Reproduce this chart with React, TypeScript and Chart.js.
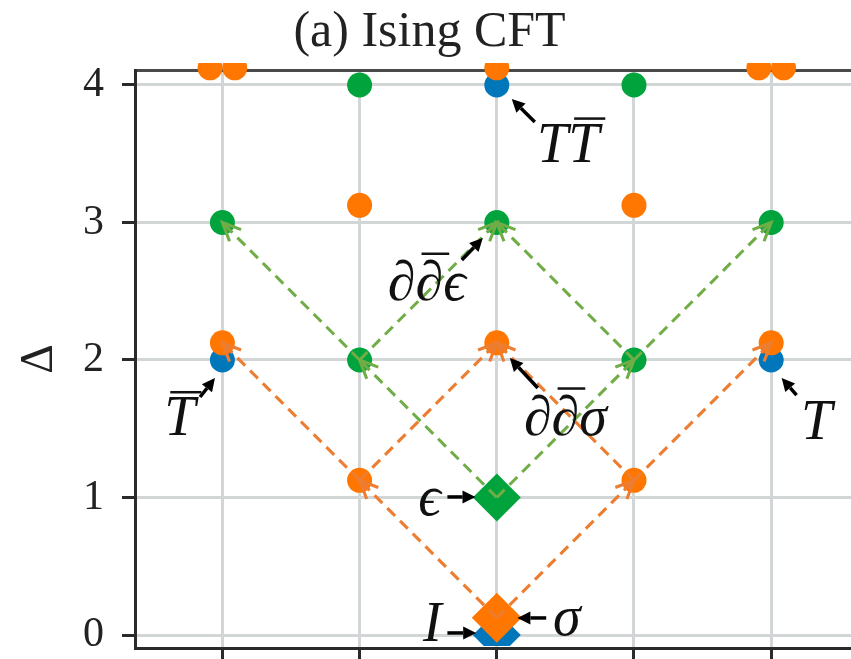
import { useEffect, useRef } from 'react';
import { Chart, registerables } from 'chart.js';

Chart.register(...registerables);

// ---- data (spin s, scaling dimension Δ) ----
const spinTicks = [-2, -1, 0, 1, 2];
const deltaTicks = [0, 1, 2, 3, 4];

const identityPrimary = [{ x: 0, y: 0 }];
const sigmaPrimary = [{ x: 0, y: 0.125 }];
const epsilonPrimary = [{ x: 0, y: 1 }];

const identityDesc = [
  { x: -2, y: 2 }, { x: 2, y: 2 }, { x: 0, y: 4 },
];
const sigmaDesc = [
  { x: -1, y: 1.125 }, { x: 1, y: 1.125 },
  { x: -2, y: 2.125 }, { x: 0, y: 2.125 }, { x: 2, y: 2.125 },
  { x: -1, y: 3.125 }, { x: 1, y: 3.125 },
  { x: -2.09, y: 4.125 }, { x: -1.91, y: 4.125 }, { x: 0, y: 4.125 },
  { x: 1.91, y: 4.125 }, { x: 2.09, y: 4.125 },
];
const epsilonDesc = [
  { x: -1, y: 2 }, { x: 1, y: 2 },
  { x: -2, y: 3 }, { x: 0, y: 3 }, { x: 2, y: 3 },
  { x: -1, y: 4 }, { x: 1, y: 4 },
];

// descendant flows: [fromSpin, fromΔ, toSpin, toΔ]
const sigmaFlows = [
  [0, 0.125, -1, 1.125], [0, 0.125, 1, 1.125],
  [-1, 1.125, -2, 2.125], [-1, 1.125, 0, 2.125],
  [1, 1.125, 0, 2.125], [1, 1.125, 2, 2.125],
];
const epsilonFlows = [
  [0, 1, -1, 2], [0, 1, 1, 2],
  [-1, 2, -2, 3], [-1, 2, 0, 3],
  [1, 2, 0, 3], [1, 2, 2, 3],
];

// labels: text parts ([text, overline]), label centre, arrow tail, arrow tip (data coords)
const labels = [
  { parts: [['I', false]], at: [-0.47, 0.06], from: [-0.36, 0.015], to: [-0.15, 0.015] },
  { parts: [['σ', false]], at: [0.51, 0.11], from: [0.36, 0.124], to: [0.15, 0.124] },
  { parts: [['ϵ', false]], at: [-0.49, 0.98], from: [-0.36, 1.004], to: [-0.155, 1.004] },
  { parts: [['T', true]], at: [-2.31, 1.56], from: [-2.163, 1.731], to: [-2.054, 1.869] },
  { parts: [['T', false]], at: [2.33, 1.535], from: [2.185, 1.745], to: [2.076, 1.869] },
  { parts: [['T', false], ['T', true]], at: [0.52, 3.55], from: [0.277, 3.731], to: [0.109, 3.898] },
  { parts: [['∂', false], ['∂', true], ['ϵ', false]], at: [-0.51, 2.545], from: [-0.255, 2.727], to: [-0.102, 2.887] },
  { parts: [['∂', false], ['∂', true], ['σ', false]], at: [0.5, 1.565], from: [0.299, 1.796], to: [0.095, 2.015] },
];

const BLUE = '#0077bb';
const ORANGE = '#ff7700';
const GREEN = '#00a33c';
const ORANGE_FLOW = '#ed7d31';
const GREEN_FLOW = '#70ad47';
const SERIF = "'Liberation Serif', 'DejaVu Serif', serif";

function openHead(ctx: CanvasRenderingContext2D, fx: number, fy: number, tx: number, ty: number) {
  const a = Math.atan2(ty - fy, tx - fx);
  const len = 20;
  const ang = 0.42;
  ctx.setLineDash([]);
  ctx.beginPath();
  ctx.moveTo(tx - len * Math.cos(a - ang), ty - len * Math.sin(a - ang));
  ctx.lineTo(tx, ty);
  ctx.lineTo(tx - len * Math.cos(a + ang), ty - len * Math.sin(a + ang));
  ctx.stroke();
}

function solidArrow(ctx: CanvasRenderingContext2D, fx: number, fy: number, tx: number, ty: number) {
  const a = Math.atan2(ty - fy, tx - fx);
  const L = 13;
  const W = 6.5;
  const bx = tx - L * Math.cos(a);
  const by = ty - L * Math.sin(a);
  ctx.lineWidth = 3.5;
  ctx.beginPath();
  ctx.moveTo(fx, fy);
  ctx.lineTo(bx, by);
  ctx.stroke();
  ctx.beginPath();
  ctx.moveTo(tx, ty);
  ctx.lineTo(bx + W * Math.sin(a), by - W * Math.cos(a));
  ctx.lineTo(bx - W * Math.sin(a), by + W * Math.cos(a));
  ctx.closePath();
  ctx.fill();
}

const overlay = {
  id: 'overlay',
  afterDatasetsDraw(chart: any) {
    const ctx: CanvasRenderingContext2D = chart.ctx;
    const xs = chart.scales.x;
    const ys = chart.scales.y;
    const px = (v: number) => xs.getPixelForValue(v);
    const py = (v: number) => ys.getPixelForValue(v);

    ctx.save();
    ctx.lineWidth = 3.1;
    ctx.lineCap = 'butt';
    const flows: [number[][], string][] = [[sigmaFlows, ORANGE_FLOW], [epsilonFlows, GREEN_FLOW]];
    for (const [list, color] of flows) {
      ctx.strokeStyle = color;
      for (const f of list) {
        const fx = px(f[0]), fy = py(f[1]), tx = px(f[2]), ty = py(f[3]);
        ctx.setLineDash([11, 7]);
        ctx.beginPath();
        ctx.moveTo(fx, fy);
        ctx.lineTo(tx, ty);
        ctx.stroke();
        openHead(ctx, fx, fy, tx, ty);
      }
    }
    ctx.restore();

    ctx.save();
    ctx.strokeStyle = '#000';
    ctx.fillStyle = '#000';
    ctx.setLineDash([]);
    const size = 56;
    ctx.font = `italic ${size}px ${SERIF}`;
    ctx.textBaseline = 'middle';
    ctx.textAlign = 'left';
    for (const lb of labels) {
      solidArrow(ctx, px(lb.from[0]), py(lb.from[1]), px(lb.to[0]), py(lb.to[1]));
      const metrics = lb.parts.map((p) => ctx.measureText(p[0] as string));
      const widths = metrics.map((m) => m.width);
      const total = widths.reduce((s, w) => s + w, 0);
      let cx = px(lb.at[0]) - total / 2;
      const cy = py(lb.at[1]);
      ctx.fillStyle = '#111';
      lb.parts.forEach((p, i) => {
        ctx.fillText(p[0] as string, cx, cy);
        if (p[1]) {
          const top = cy - metrics[i].actualBoundingBoxAscent - 5;
          ctx.lineWidth = 2.5;
          ctx.strokeStyle = '#111';
          ctx.beginPath();
          ctx.moveTo(cx + 6, top);
          ctx.lineTo(cx + widths[i] + 6, top);
          ctx.stroke();
        }
        cx += widths[i];
      });
      ctx.fillStyle = '#000';
      ctx.strokeStyle = '#000';
    }
    ctx.restore();
  },
};

const CLIP = { left: 0, top: 7, right: 0, bottom: -2 };

function pointSet(data: { x: number; y: number }[], color: string, style: string, r: number) {
  return {
    data,
    backgroundColor: color,
    borderWidth: 0,
    pointStyle: style,
    pointRadius: r,
    pointHoverRadius: r,
    showLine: false,
    clip: CLIP,
  };
}

export default function App() {
  const ref = useRef<HTMLCanvasElement | null>(null);
  useEffect(() => {
    if (!ref.current) return;
    const tickFont = { family: SERIF, size: 42 };
    const chart = new Chart(ref.current, {
      type: 'scatter',
      data: {
        datasets: [
          pointSet(epsilonPrimary, GREEN, 'rectRot', 24),
          pointSet(sigmaPrimary, ORANGE, 'rectRot', 25),
          pointSet(identityPrimary, BLUE, 'rectRot', 24),
          pointSet(epsilonDesc, GREEN, 'circle', 12.5),
          pointSet(sigmaDesc, ORANGE, 'circle', 12.5),
          pointSet(identityDesc, BLUE, 'circle', 12.5),
        ] as any,
      },
      options: {
        animation: false,
        responsive: false,
        devicePixelRatio: 1,
        events: [],
        layout: { padding: { left: 0, top: 0, bottom: 0, right: 135 } },
        plugins: {
          legend: { display: false },
          tooltip: { enabled: false },
          title: {
            display: true,
            text: '(a) Ising CFT',
            color: '#222',
            font: { family: SERIF, size: 50, weight: 'normal', lineHeight: 1 },
            padding: { top: 8, bottom: 12 },
          },
        },
        scales: {
          x: {
            type: 'linear',
            position: 'bottom',
            min: -2.637,
            max: 2.64,
            afterBuildTicks: (s: any) => { s.ticks = spinTicks.map((v) => ({ value: v })); },
            afterFit: (s: any) => { s.height = 72; },
            grid: { color: '#d3d6d6', lineWidth: 3, tickColor: '#2b2b2b', tickWidth: 3, tickLength: 13 },
            border: { color: '#2b2b2b', width: 3 },
            ticks: { font: tickFont, color: '#222', padding: 8 },
          },
          x2: {
            type: 'linear',
            position: 'top',
            min: -2.637,
            max: 2.64,
            grid: { display: false },
            ticks: { display: false },
            border: { display: true, color: '#4a4a4a', width: 3 },
            afterFit: (s: any) => { s.height = 0; },
          },
          y: {
            type: 'linear',
            min: -0.0945,
            max: 4.109,
            afterBuildTicks: (s: any) => { s.ticks = deltaTicks.map((v) => ({ value: v })); },
            afterFit: (s: any) => { s.width = 135; },
            grid: { color: '#d3d6d6', lineWidth: 3, tickColor: '#2b2b2b', tickWidth: 3, tickLength: 13 },
            border: { color: '#2b2b2b', width: 3 },
            ticks: { font: tickFont, color: '#222', padding: 18 },
            title: {
              display: true,
              text: 'Δ',
              color: '#222',
              font: { family: SERIF, size: 46, lineHeight: 1 },
              padding: { top: 17, bottom: 0 },
            },
          },
        },
      } as any,
      plugins: [overlay],
    });
    return () => chart.destroy();
  }, []);

  return (
    <div style={{ position: 'fixed', left: 0, top: 0, width: 851, height: 659, overflow: 'hidden', background: '#fff' }}>
      <canvas ref={ref} width={994} height={720} style={{ width: 994, height: 720, display: 'block' }} />
    </div>
  );
}
